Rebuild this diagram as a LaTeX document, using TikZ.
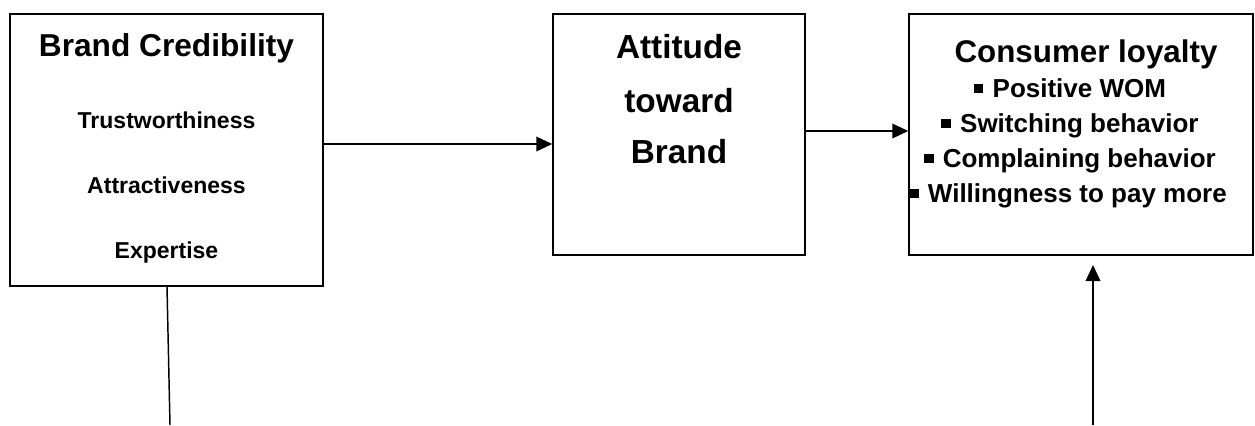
\documentclass[tikz,border=0pt]{standalone}
\usepackage{fontspec}
\setmainfont{Liberation Sans}
\usetikzlibrary{arrows.meta}

\newcommand{\sqitem}{\rule[3pt]{7pt}{7pt}\hspace{7pt}}

\begin{document}
\begin{tikzpicture}[x=0.75pt,y=-0.75pt,
        box/.style={draw,rectangle,line width=1.1pt,inner sep=0pt},
        txt/.style={anchor=base,inner sep=0pt,font=\bfseries},
        arr/.style={line width=1.1pt,-{Triangle[length=12pt,width=11pt]}},
        plain/.style={line width=1.1pt}]
            \useasboundingbox (0,0) rectangle (1255,425);

            % the three boxes
            \node[box,minimum width=234.75pt,minimum height=204pt] (cred) at (166.5,150) {};
            \node[box,minimum width=189pt,minimum height=180.75pt] (att) at (679,134.5) {};
            \node[box,minimum width=258pt,minimum height=180.75pt] (loyal) at (1081,134.5) {};

            % Brand Credibility
            \node[txt,font=\bfseries\fontsize{23.75}{28}\selectfont] (credT) at (166.5,56) {Brand Credibility};
            \node[txt,font=\bfseries\fontsize{17.25}{20}\selectfont] (trust) at (166.5,128) {Trustworthiness};
            \node[txt,font=\bfseries\fontsize{17.25}{20}\selectfont] (attr) at (166.5,193) {Attractiveness};
            \node[txt,font=\bfseries\fontsize{17.25}{20}\selectfont] (expert) at (166.5,258) {Expertise};

            % Attitude toward Brand
            \node[txt,font=\bfseries\fontsize{25}{30}\selectfont] (attA) at (679,58) {Attitude};
            \node[txt,font=\bfseries\fontsize{25}{30}\selectfont] (attB) at (679,112) {toward};
            \node[txt,font=\bfseries\fontsize{25}{30}\selectfont] (attC) at (679,163) {Brand};

            % Consumer loyalty
            \node[txt,font=\bfseries\fontsize{23.5}{28}\selectfont] (loyalT) at (1086,62) {Consumer loyalty};
            \node[txt,font=\bfseries\fontsize{19.5}{23}\selectfont] (wom) at (1070,97) {\sqitem Positive WOM};
            \node[txt,font=\bfseries\fontsize{19.5}{23}\selectfont] (switch) at (1070,132) {\sqitem Switching behavior};
            \node[txt,font=\bfseries\fontsize{19.5}{23}\selectfont] (compl) at (1070,167) {\sqitem Complaining behavior};
            \node[txt,font=\bfseries\fontsize{19.5}{23}\selectfont] (pay) at (1068,202) {\sqitem Willingness to pay more};

            \coordinate (cbot) at (170,425);
            \coordinate (lbot) at (1093,425);
            \coordinate (ltip) at (1093,265);

            \draw[arr] (cred.east |- 0,144) -- (att.west |- 0,144);
            \draw[arr] (att.east |- 0,131) -- (loyal.west |- 0,131);
            \draw[plain] (cred.south -| 167,0) -- (cbot);
            \draw[arr] (lbot) -- (ltip);
        \end{tikzpicture}
\end{document}
